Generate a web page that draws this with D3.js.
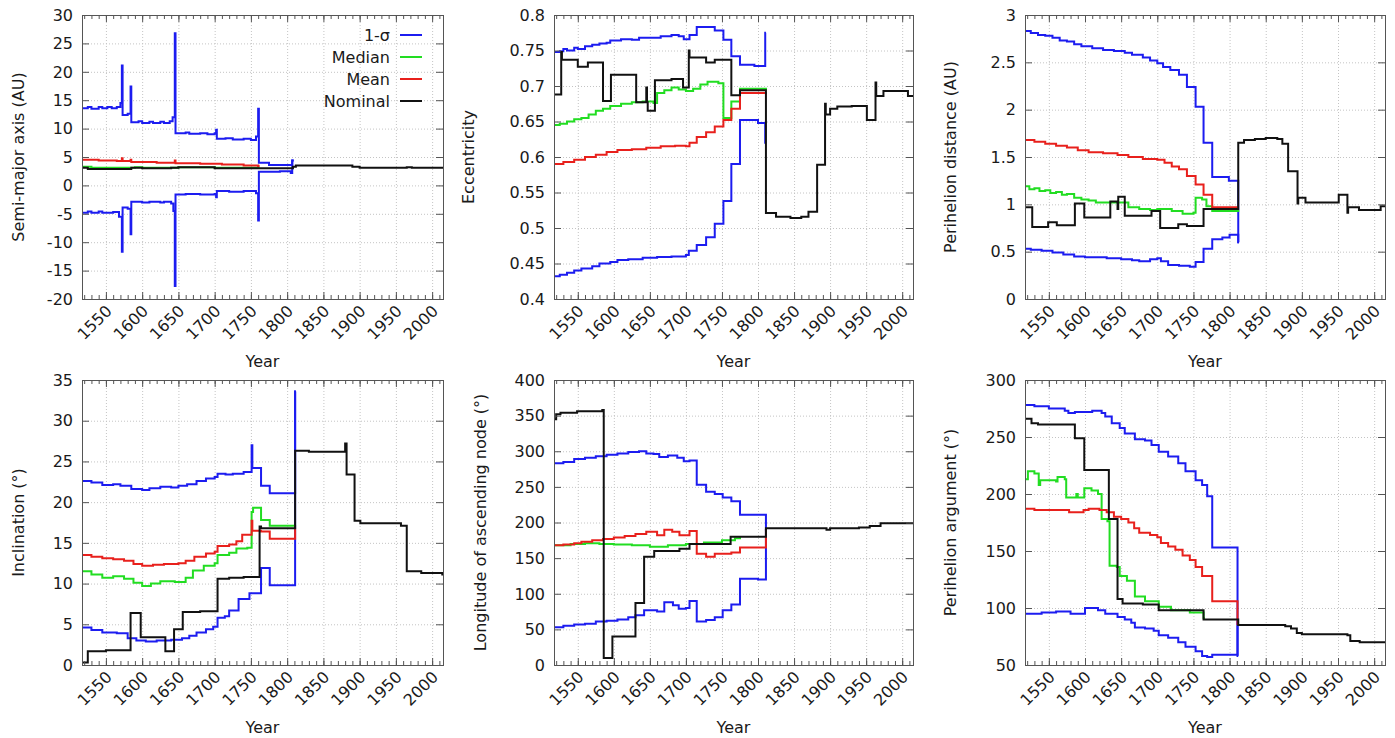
<!DOCTYPE html>
<html>
<head>
<meta charset="utf-8">
<script src="https://cdn.jsdelivr.net/npm/d3@7"></script>
<style>
  body { margin: 0; background: #fff; }
  text { font-family: "DejaVu Sans", sans-serif; fill: #1a1a1a; }
</style>
</head>
<body>
<script>
const width = 1395;
const height = 738;

// x axis, shared by all six panels
const yearRange = [1517, 2015];
const yearTicks = [1550, 1600, 1650, 1700, 1750, 1800, 1850, 1900, 1950, 2000];
const legendLabels = ["1-σ", "Median", "Mean", "Nominal"];

// semi-major axis (AU)
const aTicks = [-20, -15, -10, -5, 0, 5, 10, 15, 20, 25, 30];
const aHi = [[1517,13.6],[1525,13.8],[1530,13.5],[1540,13.8],[1545,13.6],[1552,13.8],[1558,13.6],[1565,13.8],[1570,14.5],[1572,21.1],[1573,12.4],[1580,12.6],[1584,17.4],[1585,11.1],[1595,11.3],[1600,11.0],[1610,11.2],[1615,11.0],[1625,11.2],[1630,11.0],[1638,11.3],[1642,12.0],[1645,26.8],[1646,9.2],[1660,9.3],[1665,9.1],[1680,9.2],[1690,9.0],[1700,9.2],[1702,9.8],[1703,8.2],[1715,8.3],[1725,8.1],[1740,8.2],[1750,8.0],[1757,8.6],[1760,13.5],[1761,4.0],[1775,3.6],[1807,4.4],[1809,4.4]];
const aLo = [[1517,-4.8],[1525,-4.6],[1530,-4.8],[1540,-4.6],[1545,-4.8],[1560,-4.7],[1568,-5.5],[1572,-11.7],[1573,-3.9],[1580,-4.1],[1584,-8.6],[1585,-2.9],[1600,-3.0],[1610,-2.9],[1625,-3.0],[1630,-2.9],[1640,-3.2],[1643,-4.5],[1645,-17.7],[1646,-1.6],[1660,-1.5],[1680,-1.6],[1700,-1.5],[1702,-2.1],[1703,-1.0],[1720,-1.1],[1740,-1.0],[1757,-1.4],[1760,-6.2],[1761,2.4],[1790,2.5],[1805,2.2],[1807,4.4],[1809,4.4]];
const aMed = [[1517,3.3],[1530,3.1],[1560,3.1],[1590,3.2],[1600,3.1],[1650,3.2],[1700,3.1],[1760,3.1],[1762,3.1]];
const aMean = [[1517,4.5],[1540,4.4],[1565,4.3],[1572,4.8],[1573,4.3],[1584,4.5],[1585,4.1],[1620,4.0],[1645,4.4],[1646,3.9],[1680,3.8],[1710,3.7],[1740,3.5],[1760,3.4],[1762,3.4]];
const aNom = [[1517,3.1],[1525,2.9],[1585,3.1],[1600,3.0],[1640,3.1],[1650,3.2],[1700,3.0],[1760,3.0],[1790,3.0],[1808,3.3],[1812,3.5],[1880,3.5],[1890,3.3],[1900,3.1],[1960,3.1],[1965,3.2],[1972,3.1],[2015,3.1]];

// eccentricity
const eTicks = [0.4, 0.45, 0.5, 0.55, 0.6, 0.65, 0.7, 0.75, 0.8];
const eHi = [[1517,0.748],[1525,0.749],[1530,0.752],[1535,0.750],[1545,0.754],[1550,0.752],[1560,0.756],[1570,0.758],[1580,0.760],[1590,0.761],[1595,0.764],[1610,0.766],[1625,0.765],[1635,0.768],[1650,0.768],[1665,0.770],[1680,0.772],[1690,0.770],[1697,0.766],[1705,0.772],[1715,0.783],[1740,0.778],[1752,0.765],[1763,0.742],[1775,0.730],[1795,0.728],[1810,0.775],[1811,0.775]];
const eLo = [[1517,0.432],[1525,0.434],[1535,0.437],[1545,0.440],[1555,0.443],[1570,0.446],[1580,0.450],[1595,0.452],[1605,0.455],[1620,0.456],[1640,0.458],[1660,0.459],[1680,0.460],[1700,0.462],[1704,0.468],[1715,0.476],[1728,0.487],[1740,0.506],[1752,0.538],[1763,0.590],[1775,0.652],[1800,0.648],[1810,0.620],[1811,0.620]];
const eMed = [[1517,0.645],[1525,0.647],[1535,0.650],[1545,0.653],[1555,0.655],[1565,0.660],[1575,0.665],[1585,0.668],[1595,0.672],[1610,0.675],[1625,0.677],[1640,0.678],[1655,0.676],[1660,0.690],[1670,0.694],[1680,0.698],[1690,0.695],[1700,0.693],[1710,0.696],[1720,0.702],[1730,0.706],[1745,0.704],[1752,0.655],[1763,0.678],[1775,0.696],[1811,0.694]];
const eMean = [[1517,0.590],[1530,0.593],[1545,0.596],[1560,0.600],[1575,0.603],[1590,0.607],[1605,0.610],[1625,0.611],[1645,0.613],[1665,0.615],[1685,0.616],[1700,0.615],[1705,0.620],[1715,0.628],[1728,0.635],[1740,0.643],[1752,0.652],[1763,0.668],[1775,0.690],[1811,0.688]];
const eNom = [[1517,0.688],[1527,0.748],[1528,0.737],[1550,0.727],[1564,0.733],[1585,0.679],[1596,0.716],[1631,0.677],[1645,0.698],[1646,0.677],[1647,0.665],[1657,0.708],[1680,0.710],[1696,0.698],[1704,0.750],[1705,0.740],[1728,0.733],[1740,0.737],[1763,0.687],[1775,0.694],[1811,0.521],[1825,0.516],[1845,0.514],[1860,0.516],[1870,0.523],[1882,0.589],[1893,0.675],[1894,0.660],[1900,0.668],[1910,0.671],[1930,0.672],[1951,0.652],[1963,0.705],[1964,0.686],[1974,0.693],[2008,0.686],[2015,0.686]];

// perihelion distance (AU)
const qTicks = [0, 0.5, 1, 1.5, 2, 2.5, 3];
const qHi = [[1517,2.83],[1525,2.81],[1535,2.79],[1545,2.78],[1555,2.76],[1565,2.73],[1575,2.72],[1585,2.69],[1595,2.67],[1610,2.65],[1625,2.63],[1640,2.62],[1655,2.60],[1665,2.58],[1680,2.55],[1690,2.52],[1700,2.49],[1708,2.45],[1718,2.42],[1730,2.37],[1741,2.24],[1753,2.03],[1764,1.65],[1776,1.29],[1799,1.25],[1812,0.60],[1813,0.60]];
const qLo = [[1517,0.53],[1525,0.52],[1540,0.51],[1555,0.49],[1570,0.47],[1585,0.45],[1600,0.44],[1615,0.44],[1630,0.43],[1650,0.42],[1665,0.41],[1675,0.40],[1690,0.42],[1700,0.43],[1705,0.40],[1715,0.36],[1730,0.35],[1745,0.34],[1753,0.39],[1764,0.53],[1776,0.63],[1790,0.65],[1800,0.68],[1812,0.60],[1813,0.60]];
const qMed = [[1517,1.19],[1523,1.16],[1530,1.17],[1537,1.14],[1545,1.15],[1552,1.12],[1560,1.13],[1568,1.10],[1575,1.11],[1585,1.07],[1595,1.05],[1605,1.04],[1615,1.02],[1630,1.02],[1650,1.02],[1660,0.97],[1675,0.95],[1690,0.94],[1700,0.95],[1712,0.95],[1720,0.93],[1735,0.90],[1750,0.91],[1753,1.07],[1762,1.05],[1768,0.98],[1776,0.93],[1812,0.94]];
const qMean = [[1517,1.68],[1530,1.66],[1545,1.64],[1560,1.62],[1575,1.60],[1590,1.57],[1605,1.55],[1625,1.54],[1645,1.52],[1660,1.50],[1680,1.48],[1700,1.47],[1710,1.44],[1720,1.40],[1730,1.37],[1741,1.30],[1753,1.21],[1764,1.10],[1776,0.97],[1812,0.97]];
const qNom = [[1517,0.97],[1527,0.76],[1549,0.81],[1561,0.78],[1586,1.01],[1599,0.86],[1635,1.03],[1645,0.95],[1646,1.08],[1655,0.88],[1692,0.93],[1704,0.75],[1729,0.79],[1741,0.77],[1764,0.95],[1812,1.65],[1820,1.68],[1835,1.69],[1850,1.70],[1866,1.69],[1873,1.64],[1881,1.35],[1894,1.01],[1895,1.07],[1905,1.02],[1930,1.02],[1951,1.10],[1963,0.91],[1964,0.97],[1979,0.94],[2009,0.98],[2015,0.98]];

// inclination (deg)
const iTicks = [0, 5, 10, 15, 20, 25, 30, 35];
const iHi = [[1516,22.6],[1530,22.4],[1545,22.1],[1560,22.2],[1570,22.0],[1585,21.6],[1600,21.5],[1610,21.7],[1625,21.9],[1640,21.8],[1650,22.0],[1662,22.2],[1675,22.6],[1688,22.9],[1700,23.1],[1704,23.5],[1715,23.4],[1725,23.5],[1740,23.7],[1751,27.0],[1752,24.2],[1764,22.0],[1776,21.1],[1811,33.6],[1812,33.6]];
const iLo = [[1516,4.6],[1530,4.3],[1545,4.0],[1565,3.9],[1580,3.3],[1592,3.0],[1605,2.9],[1620,3.0],[1640,3.1],[1655,3.3],[1665,3.6],[1675,4.0],[1688,4.4],[1698,4.7],[1704,5.8],[1714,6.0],[1720,6.7],[1733,8.1],[1748,8.8],[1764,11.9],[1776,9.8],[1811,33.6],[1812,33.6]];
const iMed = [[1516,11.5],[1530,11.1],[1545,10.7],[1560,10.9],[1575,10.6],[1588,10.1],[1600,9.7],[1612,10.0],[1625,10.3],[1645,10.2],[1660,10.7],[1670,11.6],[1685,12.2],[1700,12.5],[1704,13.5],[1720,13.8],[1730,14.3],[1745,14.4],[1751,18.8],[1753,19.3],[1764,17.8],[1776,17.1],[1811,17.0],[1812,17.0]];
const iMean = [[1516,13.5],[1530,13.3],[1545,13.1],[1560,13.0],[1575,12.8],[1588,12.4],[1600,12.2],[1615,12.3],[1630,12.4],[1650,12.5],[1660,12.8],[1672,13.3],[1688,13.7],[1700,13.9],[1704,14.6],[1720,14.8],[1730,15.2],[1738,16.0],[1751,17.7],[1752,16.5],[1764,16.4],[1776,15.5],[1811,17.0],[1812,17.0]];
const iNom = [[1516,0.3],[1525,1.7],[1550,1.8],[1584,6.4],[1598,3.4],[1632,1.7],[1644,4.4],[1656,6.5],[1680,6.6],[1704,10.6],[1720,10.7],[1740,10.8],[1762,17.0],[1764,16.8],[1811,26.3],[1830,26.2],[1880,27.2],[1882,23.4],[1893,17.7],[1901,17.4],[1950,17.4],[1957,17.1],[1965,11.5],[1985,11.3],[2010,11.3],[2014,11.1],[2016,11.1]];

// longitude of ascending node (deg)
const nTicks = [0, 50, 100, 150, 200, 250, 300, 350, 400];
const nHi = [[1517,283],[1530,285],[1545,289],[1560,291],[1575,293],[1590,295],[1605,297],[1620,299],[1635,300],[1645,297],[1655,296],[1663,292],[1675,294],[1688,291],[1697,286],[1705,287],[1715,253],[1728,243],[1740,240],[1751,235],[1763,230],[1775,211],[1811,190],[1812,190]];
const nLo = [[1517,53],[1530,55],[1545,57],[1560,58],[1575,61],[1590,62],[1605,64],[1620,67],[1630,70],[1642,77],[1660,75],[1670,88],[1682,84],[1690,79],[1700,80],[1705,90],[1715,61],[1728,63],[1740,67],[1751,77],[1763,85],[1775,121],[1800,120],[1811,190],[1812,190]];
const nMed = [[1517,168],[1540,170],[1560,171],[1580,170],[1600,169],[1625,168],[1650,166],[1675,168],[1700,170],[1725,172],[1750,175],[1768,178],[1775,180]];
const nMean = [[1517,168],[1530,169],[1545,171],[1555,173],[1570,175],[1585,177],[1600,179],[1615,181],[1630,184],[1645,187],[1660,182],[1670,190],[1681,187],[1691,182],[1705,188],[1715,156],[1728,152],[1740,156],[1763,158],[1775,165],[1811,190],[1812,190]];
const nNom = [[1517,345],[1520,352],[1526,354],[1549,356],[1584,358],[1586,10],[1598,40],[1630,87],[1642,152],[1656,160],[1691,163],[1705,170],[1762,180],[1811,192],[1880,192],[1895,190],[1900,192],[1940,193],[1955,195],[1970,199],[2015,199]];

// perihelion argument (deg)
const wTicks = [50, 100, 150, 200, 250, 300];
const wHi = [[1517,278],[1530,277],[1550,275],[1572,273],[1577,271],[1586,272],[1610,273],[1623,271],[1628,268],[1637,262],[1648,258],[1655,253],[1669,248],[1683,247],[1692,243],[1702,237],[1715,233],[1729,227],[1739,220],[1753,212],[1762,208],[1769,198],[1776,153],[1811,58],[1812,58]];
const wLo = [[1517,95],[1540,96],[1560,97],[1580,95],[1600,100],[1618,98],[1628,95],[1645,92],[1655,90],[1664,87],[1669,83],[1683,82],[1695,80],[1702,76],[1715,74],[1729,70],[1739,66],[1753,62],[1762,58],[1769,57],[1776,59],[1811,88],[1812,88]];
const wMed = [[1517,213],[1521,220],[1530,218],[1536,208],[1538,212],[1560,211],[1562,215],[1572,213],[1574,197],[1588,200],[1590,197],[1599,205],[1609,203],[1618,200],[1623,178],[1631,176],[1634,137],[1644,136],[1648,128],[1658,124],[1669,110],[1683,106],[1702,101],[1719,98],[1745,96],[1764,91],[1766,91]];
const wMean = [[1517,187],[1530,186],[1578,184],[1598,186],[1605,187],[1620,186],[1630,184],[1640,180],[1650,178],[1660,175],[1668,170],[1675,166],[1690,164],[1700,162],[1705,157],[1715,154],[1725,151],[1735,146],[1745,142],[1753,136],[1762,128],[1776,106],[1811,86],[1812,86]];
const wNom = [[1517,266],[1526,262],[1535,261],[1586,249],[1599,221],[1633,178],[1645,108],[1652,104],[1680,103],[1702,98],[1764,90],[1812,85],[1877,84],[1885,82],[1893,78],[1900,77],[1950,77],[1963,76],[1967,71],[1980,70],[2015,70]];

const colors = ["#1c1cf0", "#1c1cf0", "#22dd22", "#e8201c", "#111111"];
const legendColors = ["#1c1cf0", "#22dd22", "#e8201c", "#111111"];

const panels = [
  { box: [82, 443, 15, 299], dom: [-20, 30], ticks: aTicks, label: "Semi-major axis (AU)", lx: 18,
    series: [aLo, aHi, aMed, aMean, aNom], legend: true },
  { box: [554, 913, 15, 299], dom: [0.4, 0.8], ticks: eTicks, label: "Eccentricity", lx: 468,
    series: [eLo, eHi, eMed, eMean, eNom] },
  { box: [1025, 1385, 15, 299], dom: [0, 3], ticks: qTicks, label: "Perihelion distance (AU)", lx: 950,
    series: [qLo, qHi, qMed, qMean, qNom] },
  { box: [82, 443, 380, 665], dom: [0, 35], ticks: iTicks, label: "Inclination (°)", lx: 18,
    series: [iLo, iHi, iMed, iMean, iNom] },
  { box: [554, 913, 380, 665], dom: [0, 400], ticks: nTicks, label: "Longitude of ascending node (°)", lx: 480,
    series: [nLo, nHi, nMed, nMean, nNom] },
  { box: [1025, 1385, 380, 665], dom: [50, 300], ticks: wTicks, label: "Perihelion argument (°)", lx: 950,
    series: [wLo, wHi, wMed, wMean, wNom] }
];

const svg = d3.select("body").append("svg")
  .attr("width", width)
  .attr("height", height);

const frameColor = "#555";

function styleAxis(sel) {
  sel.select(".domain").remove();
  sel.selectAll("line").attr("stroke", frameColor);
  sel.selectAll("text").remove();
}

panels.forEach((p, i) => {
  const [x0, x1, y0, y1] = p.box;
  const x = d3.scaleLinear().domain(yearRange).range([x0, x1]);
  const y = d3.scaleLinear().domain(p.dom).range([y1, y0]);
  const minor = d3.range(1520, yearRange[1] + 1, 10);

  const g = svg.append("g");

  // dotted grid
  g.append("g")
    .attr("transform", `translate(0,${y1})`)
    .call(d3.axisBottom(x).tickValues(yearTicks).tickSize(-(y1 - y0)).tickFormat(""))
    .call(s => {
      s.select(".domain").remove();
      s.selectAll("line").attr("stroke", "#c4c4c4").attr("stroke-dasharray", "1,2");
    });
  g.append("g")
    .attr("transform", `translate(${x0},0)`)
    .call(d3.axisLeft(y).tickValues(p.ticks).tickSize(-(x1 - x0)).tickFormat(""))
    .call(s => {
      s.select(".domain").remove();
      s.selectAll("line").attr("stroke", "#c4c4c4").attr("stroke-dasharray", "1,2");
    });

  // series lines
  svg.append("clipPath").attr("id", "clip" + i)
    .append("rect").attr("x", x0).attr("y", y0).attr("width", x1 - x0).attr("height", y1 - y0);

  const line = d3.line()
    .x(d => x(d[0]))
    .y(d => y(d[1]))
    .curve(d3.curveStepAfter);

  g.append("g").attr("clip-path", `url(#clip${i})`)
    .selectAll("path")
    .data(p.series)
    .join("path")
    .attr("d", line)
    .attr("fill", "none")
    .attr("stroke", (d, k) => colors[k])
    .attr("stroke-width", 2)
    .attr("stroke-linejoin", "miter");

  // frame
  g.append("rect")
    .attr("x", x0 + 0.5).attr("y", y0 + 0.5)
    .attr("width", x1 - x0).attr("height", y1 - y0)
    .attr("fill", "none").attr("stroke", frameColor).attr("stroke-width", 1);

  // inward ticks on all four sides
  g.append("g").attr("transform", `translate(0,${y1})`)
    .call(d3.axisBottom(x).tickValues(yearTicks).tickSize(-7)).call(styleAxis);
  g.append("g").attr("transform", `translate(0,${y1})`)
    .call(d3.axisBottom(x).tickValues(minor).tickSize(-4)).call(styleAxis);
  g.append("g").attr("transform", `translate(0,${y0})`)
    .call(d3.axisTop(x).tickValues(yearTicks).tickSize(-7)).call(styleAxis);
  g.append("g").attr("transform", `translate(0,${y0})`)
    .call(d3.axisTop(x).tickValues(minor).tickSize(-4)).call(styleAxis);
  g.append("g").attr("transform", `translate(${x0},0)`)
    .call(d3.axisLeft(y).tickValues(p.ticks).tickSize(-7)).call(styleAxis);
  g.append("g").attr("transform", `translate(${x1},0)`)
    .call(d3.axisRight(y).tickValues(p.ticks).tickSize(-7)).call(styleAxis);

  // tick labels
  g.append("g").selectAll("text")
    .data(p.ticks)
    .join("text")
    .attr("x", x0 - 9)
    .attr("y", d => y(d))
    .attr("dy", "0.36em")
    .attr("text-anchor", "end")
    .attr("font-size", 16)
    .text(d => String(d));

  g.append("g").selectAll("text")
    .data(yearTicks)
    .join("text")
    .attr("text-anchor", "end")
    .attr("font-size", 16)
    .attr("transform", d => `translate(${x(d) + 7},${y1 + 13}) rotate(-45)`)
    .text(d => String(d));

  // axis titles
  g.append("text")
    .attr("x", (x0 + x1) / 2)
    .attr("y", y1 + 68)
    .attr("text-anchor", "middle")
    .attr("font-size", 16)
    .text("Year");

  g.append("text")
    .attr("transform", `translate(${p.lx},${(y0 + y1) / 2}) rotate(-90)`)
    .attr("dy", "0.36em")
    .attr("text-anchor", "middle")
    .attr("font-size", 16)
    .text(p.label);

  if (p.legend) {
    const lg = g.append("g");
    legendLabels.forEach((name, k) => {
      const ly = 35 + k * 22;
      lg.append("text")
        .attr("x", 390).attr("y", ly)
        .attr("dy", "0.36em")
        .attr("text-anchor", "end")
        .attr("font-size", 16)
        .text(name);
      lg.append("line")
        .attr("x1", 400).attr("x2", 422)
        .attr("y1", ly).attr("y2", ly)
        .attr("stroke", legendColors[k])
        .attr("stroke-width", 2);
    });
  }
});
</script>
</body>
</html>
